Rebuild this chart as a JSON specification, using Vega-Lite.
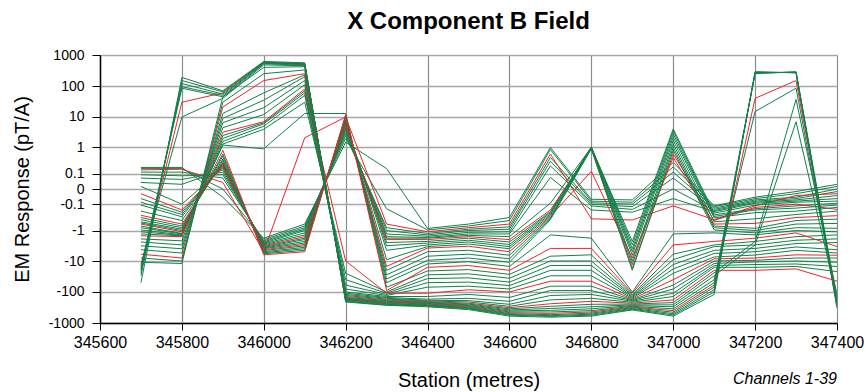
{
"$schema": "https://vega.github.io/schema/vega-lite/v6.json",
"width": 737,
"height": 268,
"autosize": "none",
"padding": {"left": 100, "top": 55, "right": 30, "bottom": 69},
"background": "white",
"title": {"text": "X Component B Field", "fontSize": 24, "font": "Liberation Sans", "fontWeight": "bold", "color": "black", "anchor": "middle", "offset": 14},
"config": {"view": {"stroke": null}},
"layer": [
{
"data": {"values": [
{"s":345700,"c":1,"v":0.19},{"s":345800,"c":1,"v":0.19},{"s":345900,"c":1,"v":-0.04},{"s":346000,"c":1,"v":-1.8},{"s":346100,"c":1,"v":-0.6},{"s":346200,"c":1,"v":1.5},{"s":346300,"c":1,"v":0.17},{"s":346400,"c":1,"v":-0.85},{"s":346500,"c":1,"v":-0.6},{"s":346600,"c":1,"v":-0.35},{"s":346700,"c":1,"v":1.0},{"s":346800,"c":1,"v":-0.055},{"s":346900,"c":1,"v":-0.06},{"s":347000,"c":1,"v":0.3},{"s":347100,"c":1,"v":-0.12},{"s":347200,"c":1,"v":-0.04},{"s":347300,"c":1,"v":-0.01},{"s":347400,"c":1,"v":0.02},
{"s":345700,"c":2,"v":0.17},{"s":345800,"c":2,"v":0.17},{"s":345900,"c":2,"v":0.0},{"s":346000,"c":2,"v":-2.0},{"s":346100,"c":2,"v":-0.7},{"s":346200,"c":2,"v":2},{"s":346300,"c":2,"v":-0.16},{"s":346400,"c":2,"v":-0.95},{"s":346500,"c":2,"v":-0.7},{"s":346600,"c":2,"v":-0.45},{"s":346700,"c":2,"v":0.85},{"s":346800,"c":2,"v":-0.07},{"s":346900,"c":2,"v":-0.08},{"s":347000,"c":2,"v":0.2},{"s":347100,"c":2,"v":-0.13},{"s":347200,"c":2,"v":-0.05},{"s":347300,"c":2,"v":-0.02},{"s":347400,"c":2,"v":0.01},
{"s":345700,"c":3,"v":0.09},{"s":345800,"c":3,"v":0.08},{"s":345900,"c":3,"v":0.09},{"s":346000,"c":3,"v":-2.4},{"s":346100,"c":3,"v":-0.9},{"s":346200,"c":3,"v":3},{"s":346300,"c":3,"v":-1.0},{"s":346400,"c":3,"v":-1.4},{"s":346500,"c":3,"v":-1.0},{"s":346600,"c":3,"v":-0.9},{"s":346700,"c":3,"v":0.33},{"s":346800,"c":3,"v":-0.1},{"s":346900,"c":3,"v":-0.13},{"s":347000,"c":3,"v":0.06},{"s":347100,"c":3,"v":-0.17},{"s":347200,"c":3,"v":-0.07},{"s":347300,"c":3,"v":-0.05},{"s":347400,"c":3,"v":-0.01},
{"s":345700,"c":4,"v":0.12},{"s":345800,"c":4,"v":0.12},{"s":345900,"c":4,"v":0.06},{"s":346000,"c":4,"v":-2.2},{"s":346100,"c":4,"v":-0.8},{"s":346200,"c":4,"v":2.5},{"s":346300,"c":4,"v":-0.8},{"s":346400,"c":4,"v":-1.25},{"s":346500,"c":4,"v":-0.9},{"s":346600,"c":4,"v":-0.75},{"s":346700,"c":4,"v":0.45},{"s":346800,"c":4,"v":-0.085},{"s":346900,"c":4,"v":-0.1},{"s":347000,"c":4,"v":0.12},{"s":347100,"c":4,"v":-0.15},{"s":347200,"c":4,"v":-0.06},{"s":347300,"c":4,"v":-0.04},{"s":347400,"c":4,"v":0.0},
{"s":345700,"c":5,"v":0.15},{"s":345800,"c":5,"v":0.16},{"s":345900,"c":5,"v":0.03},{"s":346000,"c":5,"v":-5},{"s":346100,"c":5,"v":2.1},{"s":346200,"c":5,"v":10},{"s":346300,"c":5,"v":-0.6},{"s":346400,"c":5,"v":-1.1},{"s":346500,"c":5,"v":-0.8},{"s":346600,"c":5,"v":-0.6},{"s":346700,"c":5,"v":0.6},{"s":346800,"c":5,"v":-0.39},{"s":346900,"c":5,"v":-0.43},{"s":347000,"c":5,"v":-0.12},{"s":347100,"c":5,"v":-0.42},{"s":347200,"c":5,"v":-0.12},{"s":347300,"c":5,"v":-0.03},{"s":347400,"c":5,"v":-0.02},
{"s":345700,"c":6,"v":0.06},{"s":345800,"c":6,"v":0.05},{"s":345900,"c":6,"v":0.12},{"s":346000,"c":6,"v":-2.6},{"s":346100,"c":6,"v":-1.0},{"s":346200,"c":6,"v":3.5},{"s":346300,"c":6,"v":-1.3},{"s":346400,"c":6,"v":-1.55},{"s":346500,"c":6,"v":-1.15},{"s":346600,"c":6,"v":-1.1},{"s":346700,"c":6,"v":0.22},{"s":346800,"c":6,"v":-0.12},{"s":346900,"c":6,"v":-0.17},{"s":347000,"c":6,"v":0.0},{"s":347100,"c":6,"v":-0.19},{"s":347200,"c":6,"v":-0.08},{"s":347300,"c":6,"v":-0.06},{"s":347400,"c":6,"v":-0.03},
{"s":345700,"c":7,"v":0.03},{"s":345800,"c":7,"v":0.02},{"s":345900,"c":7,"v":0.15},{"s":346000,"c":7,"v":-2.8},{"s":346100,"c":7,"v":-1.2},{"s":346200,"c":7,"v":4},{"s":346300,"c":7,"v":-1.6},{"s":346400,"c":7,"v":-1.7},{"s":346500,"c":7,"v":-1.3},{"s":346600,"c":7,"v":-1.3},{"s":346700,"c":7,"v":0.065},{"s":346800,"c":7,"v":-0.18},{"s":346900,"c":7,"v":-0.22},{"s":347000,"c":7,"v":-0.05},{"s":347100,"c":7,"v":-0.21},{"s":347200,"c":7,"v":-0.09},{"s":347300,"c":7,"v":-0.07},{"s":347400,"c":7,"v":-0.05},
{"s":345700,"c":8,"v":0.01},{"s":345800,"c":8,"v":-0.1},{"s":345900,"c":8,"v":0.18},{"s":346000,"c":8,"v":-3.0},{"s":346100,"c":8,"v":-1.4},{"s":346200,"c":8,"v":4.5},{"s":346300,"c":8,"v":-1.8},{"s":346400,"c":8,"v":-1.8},{"s":346500,"c":8,"v":-1.45},{"s":346600,"c":8,"v":-1.6},{"s":346700,"c":8,"v":-0.09},{"s":346800,"c":8,"v":1.0},{"s":346900,"c":8,"v":-2.3},{"s":347000,"c":8,"v":4.1},{"s":347100,"c":8,"v":-0.24},{"s":347200,"c":8,"v":-0.11},{"s":347300,"c":8,"v":-0.08},{"s":347400,"c":8,"v":-0.07},
{"s":345700,"c":9,"v":-0.05},{"s":345800,"c":9,"v":-0.22},{"s":345900,"c":9,"v":0.22},{"s":346000,"c":9,"v":-3.4},{"s":346100,"c":9,"v":-1.8},{"s":346200,"c":9,"v":5.5},{"s":346300,"c":9,"v":-2.5},{"s":346400,"c":9,"v":-2.3},{"s":346500,"c":9,"v":-1.8},{"s":346600,"c":9,"v":-2.4},{"s":346700,"c":9,"v":-0.21},{"s":346800,"c":9,"v":1.0},{"s":346900,"c":9,"v":-3},{"s":347000,"c":9,"v":3.5},{"s":347100,"c":9,"v":-0.28},{"s":347200,"c":9,"v":-0.16},{"s":347300,"c":9,"v":-0.12},{"s":347400,"c":9,"v":-0.09},
{"s":345700,"c":10,"v":-0.02},{"s":345800,"c":10,"v":-0.18},{"s":345900,"c":10,"v":0.2},{"s":346000,"c":10,"v":-3.2},{"s":346100,"c":10,"v":-1.6},{"s":346200,"c":10,"v":5},{"s":346300,"c":10,"v":-2},{"s":346400,"c":10,"v":-2},{"s":346500,"c":10,"v":-1.6},{"s":346600,"c":10,"v":-2},{"s":346700,"c":10,"v":-0.18},{"s":346800,"c":10,"v":0.9},{"s":346900,"c":10,"v":-17},{"s":347000,"c":10,"v":0.6},{"s":347100,"c":10,"v":-0.45},{"s":347200,"c":10,"v":-0.14},{"s":347300,"c":10,"v":-0.1},{"s":347400,"c":10,"v":-0.17},
{"s":345700,"c":11,"v":-0.08},{"s":345800,"c":11,"v":-0.27},{"s":345900,"c":11,"v":0.24},{"s":346000,"c":11,"v":-3.6},{"s":346100,"c":11,"v":-2.0},{"s":346200,"c":11,"v":6},{"s":346300,"c":11,"v":-3.2},{"s":346400,"c":11,"v":-2.6},{"s":346500,"c":11,"v":-2.1},{"s":346600,"c":11,"v":-2.9},{"s":346700,"c":11,"v":-0.23},{"s":346800,"c":11,"v":1.05},{"s":346900,"c":11,"v":-4},{"s":347000,"c":11,"v":2.8},{"s":347100,"c":11,"v":-0.32},{"s":347200,"c":11,"v":-0.18},{"s":347300,"c":11,"v":-0.15},{"s":347400,"c":11,"v":-0.11},
{"s":345700,"c":12,"v":-0.11},{"s":345800,"c":12,"v":-0.33},{"s":345900,"c":12,"v":0.26},{"s":346000,"c":12,"v":-3.8},{"s":346100,"c":12,"v":-2.3},{"s":346200,"c":12,"v":6.5},{"s":346300,"c":12,"v":-4.5},{"s":346400,"c":12,"v":-3.0},{"s":346500,"c":12,"v":-2.4},{"s":346600,"c":12,"v":-3.4},{"s":346700,"c":12,"v":-0.26},{"s":346800,"c":12,"v":1.0},{"s":346900,"c":12,"v":-5},{"s":347000,"c":12,"v":2.2},{"s":347100,"c":12,"v":-0.36},{"s":347200,"c":12,"v":-0.23},{"s":347300,"c":12,"v":-0.2},{"s":347400,"c":12,"v":-0.14},
{"s":345700,"c":13,"v":-0.2},{"s":345800,"c":13,"v":-0.45},{"s":345900,"c":13,"v":0.28},{"s":346000,"c":13,"v":-4.0},{"s":346100,"c":13,"v":-2.6},{"s":346200,"c":13,"v":7},{"s":346300,"c":13,"v":-9},{"s":346400,"c":13,"v":-3.4},{"s":346500,"c":13,"v":-2.8},{"s":346600,"c":13,"v":-4},{"s":346700,"c":13,"v":-0.29},{"s":346800,"c":13,"v":0.95},{"s":346900,"c":13,"v":-6.5},{"s":347000,"c":13,"v":1.7},{"s":347100,"c":13,"v":-0.5},{"s":347200,"c":13,"v":-0.39},{"s":347300,"c":13,"v":-0.27},{"s":347400,"c":13,"v":-0.2},
{"s":345700,"c":14,"v":-0.35},{"s":345800,"c":14,"v":-0.7},{"s":345900,"c":14,"v":0.35},{"s":346000,"c":14,"v":-4.6},{"s":346100,"c":14,"v":-3.2},{"s":346200,"c":14,"v":8},{"s":346300,"c":14,"v":-20},{"s":346400,"c":14,"v":-5},{"s":346500,"c":14,"v":-4.5},{"s":346600,"c":14,"v":-6.5},{"s":346700,"c":14,"v":-0.35},{"s":346800,"c":14,"v":1.0},{"s":346900,"c":14,"v":-10},{"s":347000,"c":14,"v":1.3},{"s":347100,"c":14,"v":-0.7},{"s":347200,"c":14,"v":-0.84},{"s":347300,"c":14,"v":-0.45},{"s":347400,"c":14,"v":-0.4},
{"s":345700,"c":15,"v":-0.29},{"s":345800,"c":15,"v":-0.6},{"s":345900,"c":15,"v":0.3},{"s":346000,"c":15,"v":-4.3},{"s":346100,"c":15,"v":-2.9},{"s":346200,"c":15,"v":7.5},{"s":346300,"c":15,"v":-15},{"s":346400,"c":15,"v":-3.8},{"s":346500,"c":15,"v":-3.3},{"s":346600,"c":15,"v":-5},{"s":346700,"c":15,"v":-0.32},{"s":346800,"c":15,"v":0.13},{"s":346900,"c":15,"v":-8},{"s":347000,"c":15,"v":0.45},{"s":347100,"c":15,"v":-0.6},{"s":347200,"c":15,"v":-0.57},{"s":347300,"c":15,"v":-0.35},{"s":347400,"c":15,"v":-0.3},
{"s":345700,"c":16,"v":-0.42},{"s":345800,"c":16,"v":-0.8},{"s":345900,"c":16,"v":0.4},{"s":346000,"c":16,"v":-5.0},{"s":346100,"c":16,"v":-3.6},{"s":346200,"c":16,"v":9},{"s":346300,"c":16,"v":-28},{"s":346400,"c":16,"v":-7},{"s":346500,"c":16,"v":-6},{"s":346600,"c":16,"v":-8.5},{"s":346700,"c":16,"v":-0.38},{"s":346800,"c":16,"v":0.95},{"s":346900,"c":16,"v":-13},{"s":347000,"c":16,"v":1.0},{"s":347100,"c":16,"v":-0.8},{"s":347200,"c":16,"v":-1.0},{"s":347300,"c":16,"v":-0.6},{"s":347400,"c":16,"v":-0.57},
{"s":345700,"c":17,"v":-0.5},{"s":345800,"c":17,"v":-0.9},{"s":345900,"c":17,"v":0.5},{"s":346000,"c":17,"v":-5.4},{"s":346100,"c":17,"v":-4.0},{"s":346200,"c":17,"v":10},{"s":346300,"c":17,"v":-38},{"s":346400,"c":17,"v":-9.5},{"s":346500,"c":17,"v":-8},{"s":346600,"c":17,"v":-11},{"s":346700,"c":17,"v":-0.42},{"s":346800,"c":17,"v":0.9},{"s":346900,"c":17,"v":-20},{"s":347000,"c":17,"v":0.8},{"s":347100,"c":17,"v":-0.95},{"s":347200,"c":17,"v":-1.2},{"s":347300,"c":17,"v":-0.8},{"s":347400,"c":17,"v":-0.84},
{"s":345700,"c":18,"v":-0.55},{"s":345800,"c":18,"v":-1.0},{"s":345900,"c":18,"v":0.6},{"s":346000,"c":18,"v":-5.8},{"s":346100,"c":18,"v":-4.5},{"s":346200,"c":18,"v":11},{"s":346300,"c":18,"v":-50},{"s":346400,"c":18,"v":-12.5},{"s":346500,"c":18,"v":-10.5},{"s":346600,"c":18,"v":-15},{"s":346700,"c":18,"v":-1.4},{"s":346800,"c":18,"v":-1.8},{"s":346900,"c":18,"v":-100},{"s":347000,"c":18,"v":-1.3},{"s":347100,"c":18,"v":-1.2},{"s":347200,"c":18,"v":-1.4},{"s":347300,"c":18,"v":-1.0},{"s":347400,"c":18,"v":-1.1},
{"s":345700,"c":19,"v":-0.7},{"s":345800,"c":19,"v":-1.25},{"s":345900,"c":19,"v":1.2},{"s":346000,"c":19,"v":0.9},{"s":346100,"c":19,"v":13},{"s":346200,"c":19,"v":13},{"s":346300,"c":19,"v":-70},{"s":346400,"c":19,"v":-21},{"s":346500,"c":19,"v":-19},{"s":346600,"c":19,"v":-27},{"s":346700,"c":19,"v":-7},{"s":346800,"c":19,"v":-6.3},{"s":346900,"c":19,"v":-120},{"s":347000,"c":19,"v":-6},{"s":347100,"c":19,"v":-3},{"s":347200,"c":19,"v":-2.3},{"s":347300,"c":19,"v":-1.6},{"s":347400,"c":19,"v":-1.4},
{"s":345700,"c":20,"v":-0.6},{"s":345800,"c":20,"v":-1.1},{"s":345900,"c":20,"v":0.8},{"s":346000,"c":20,"v":-6.3},{"s":346100,"c":20,"v":-5},{"s":346200,"c":20,"v":12},{"s":346300,"c":20,"v":-90},{"s":346400,"c":20,"v":-16},{"s":346500,"c":20,"v":-14},{"s":346600,"c":20,"v":-20},{"s":346700,"c":20,"v":-3.9},{"s":346800,"c":20,"v":-3.9},{"s":346900,"c":20,"v":-110},{"s":347000,"c":20,"v":-3},{"s":347100,"c":20,"v":-2.3},{"s":347200,"c":20,"v":-1.8},{"s":347300,"c":20,"v":-1.2},{"s":347400,"c":20,"v":-3.4},
{"s":345700,"c":21,"v":-0.8},{"s":345800,"c":21,"v":-1.3},{"s":345900,"c":21,"v":1.3},{"s":346000,"c":21,"v":4},{"s":346100,"c":21,"v":30},{"s":346200,"c":21,"v":-25},{"s":346300,"c":21,"v":-100},{"s":346400,"c":21,"v":-28},{"s":346500,"c":21,"v":-26},{"s":346600,"c":21,"v":-36},{"s":346700,"c":21,"v":-10},{"s":346800,"c":21,"v":-10},{"s":346900,"c":21,"v":-130},{"s":347000,"c":21,"v":-9},{"s":347100,"c":21,"v":-3.4},{"s":347200,"c":21,"v":-3},{"s":347300,"c":21,"v":-2.1},{"s":347400,"c":21,"v":-1.9},
{"s":345700,"c":22,"v":-0.95},{"s":345800,"c":22,"v":-1.4},{"s":345900,"c":22,"v":1.6},{"s":346000,"c":22,"v":5},{"s":346100,"c":22,"v":50},{"s":346200,"c":22,"v":-40},{"s":346300,"c":22,"v":-110},{"s":346400,"c":22,"v":-37},{"s":346500,"c":22,"v":-35},{"s":346600,"c":22,"v":-48},{"s":346700,"c":22,"v":-14},{"s":346800,"c":22,"v":-14},{"s":346900,"c":22,"v":-140},{"s":347000,"c":22,"v":-13},{"s":347100,"c":22,"v":-4.5},{"s":347200,"c":22,"v":-3.9},{"s":347300,"c":22,"v":-2.7},{"s":347400,"c":22,"v":-2.5},
{"s":345700,"c":23,"v":-1.1},{"s":345800,"c":23,"v":-1.45},{"s":345900,"c":23,"v":2},{"s":346000,"c":23,"v":6},{"s":346100,"c":23,"v":60},{"s":346200,"c":23,"v":-60},{"s":346300,"c":23,"v":-120},{"s":346400,"c":23,"v":-50},{"s":346500,"c":23,"v":-48},{"s":346600,"c":23,"v":-62},{"s":346700,"c":23,"v":-20},{"s":346800,"c":23,"v":-20},{"s":346900,"c":23,"v":-150},{"s":347000,"c":23,"v":-18},{"s":347100,"c":23,"v":-5.7},{"s":347200,"c":23,"v":-5},{"s":347300,"c":23,"v":-3.5},{"s":347400,"c":23,"v":-4.3},
{"s":345700,"c":24,"v":-1.3},{"s":345800,"c":24,"v":-1.5},{"s":345900,"c":24,"v":2.5},{"s":346000,"c":24,"v":6.5},{"s":346100,"c":24,"v":70},{"s":346200,"c":24,"v":-80},{"s":346300,"c":24,"v":-130},{"s":346400,"c":24,"v":-70},{"s":346500,"c":24,"v":-65},{"s":346600,"c":24,"v":-80},{"s":346700,"c":24,"v":-30},{"s":346800,"c":24,"v":-30},{"s":346900,"c":24,"v":-160},{"s":347000,"c":24,"v":-25},{"s":347100,"c":24,"v":-7.4},{"s":347200,"c":24,"v":-6.4},{"s":347300,"c":24,"v":-4.5},{"s":347400,"c":24,"v":-5.5},
{"s":345700,"c":25,"v":-1.5},{"s":345800,"c":25,"v":-1.6},{"s":345900,"c":25,"v":3.2},{"s":346000,"c":25,"v":7},{"s":346100,"c":25,"v":80},{"s":346200,"c":25,"v":-10},{"s":346300,"c":25,"v":-110},{"s":346400,"c":25,"v":-110},{"s":346500,"c":25,"v":-85},{"s":346600,"c":25,"v":-100},{"s":346700,"c":25,"v":-45},{"s":346800,"c":25,"v":-45},{"s":346900,"c":25,"v":-170},{"s":347000,"c":25,"v":-40},{"s":347100,"c":25,"v":-8.5},{"s":347200,"c":25,"v":-8},{"s":347300,"c":25,"v":-6.3},{"s":347400,"c":25,"v":-6.5},
{"s":345700,"c":26,"v":-1.9},{"s":345800,"c":26,"v":-2.2},{"s":345900,"c":26,"v":4.5},{"s":346000,"c":26,"v":12},{"s":346100,"c":26,"v":110},{"s":346200,"c":26,"v":-100},{"s":346300,"c":26,"v":-140},{"s":346400,"c":26,"v":-140},{"s":346500,"c":26,"v":-120},{"s":346600,"c":26,"v":-150},{"s":346700,"c":26,"v":-65},{"s":346800,"c":26,"v":-65},{"s":346900,"c":26,"v":-180},{"s":347000,"c":26,"v":-60},{"s":347100,"c":26,"v":-10},{"s":347200,"c":26,"v":-9.5},{"s":347300,"c":26,"v":-8},{"s":347400,"c":26,"v":-8},
{"s":345700,"c":27,"v":-2.4},{"s":345800,"c":27,"v":-3},{"s":345900,"c":27,"v":6.5},{"s":346000,"c":27,"v":20},{"s":346100,"c":27,"v":150},{"s":346200,"c":27,"v":-110},{"s":346300,"c":27,"v":-150},{"s":346400,"c":27,"v":-170},{"s":346500,"c":27,"v":-160},{"s":346600,"c":27,"v":-200},{"s":346700,"c":27,"v":-90},{"s":346800,"c":27,"v":-90},{"s":346900,"c":27,"v":-190},{"s":347000,"c":27,"v":-80},{"s":347100,"c":27,"v":-12},{"s":347200,"c":27,"v":-10.7},{"s":347300,"c":27,"v":-10},{"s":347400,"c":27,"v":-11},
{"s":345700,"c":28,"v":-3.2},{"s":345800,"c":28,"v":-4},{"s":345900,"c":28,"v":9},{"s":346000,"c":28,"v":35},{"s":346100,"c":28,"v":200},{"s":346200,"c":28,"v":-120},{"s":346300,"c":28,"v":-160},{"s":346400,"c":28,"v":-185},{"s":346500,"c":28,"v":-190},{"s":346600,"c":28,"v":-250},{"s":346700,"c":28,"v":-130},{"s":346800,"c":28,"v":-120},{"s":346900,"c":28,"v":-200},{"s":347000,"c":28,"v":-110},{"s":347100,"c":28,"v":-14},{"s":347200,"c":28,"v":-13},{"s":347300,"c":28,"v":-12.5},{"s":347400,"c":28,"v":-15},
{"s":345700,"c":29,"v":-4.3},{"s":345800,"c":29,"v":-5.5},{"s":345900,"c":29,"v":13},{"s":346000,"c":29,"v":60},{"s":346100,"c":29,"v":230},{"s":346200,"c":29,"v":-130},{"s":346300,"c":29,"v":-170},{"s":346400,"c":29,"v":-195},{"s":346500,"c":29,"v":-210},{"s":346600,"c":29,"v":-290},{"s":346700,"c":29,"v":-180},{"s":346800,"c":29,"v":-160},{"s":346900,"c":29,"v":-215},{"s":347000,"c":29,"v":-140},{"s":347100,"c":29,"v":-16},{"s":347200,"c":29,"v":-16},{"s":347300,"c":29,"v":-15},{"s":347400,"c":29,"v":-22},
{"s":345700,"c":30,"v":-6},{"s":345800,"c":30,"v":-8},{"s":345900,"c":30,"v":21},{"s":346000,"c":30,"v":150},{"s":346100,"c":30,"v":250},{"s":346200,"c":30,"v":-140},{"s":346300,"c":30,"v":-180},{"s":346400,"c":30,"v":-205},{"s":346500,"c":30,"v":-230},{"s":346600,"c":30,"v":-320},{"s":346700,"c":30,"v":-240},{"s":346800,"c":30,"v":-200},{"s":346900,"c":30,"v":-230},{"s":347000,"c":30,"v":-180},{"s":347100,"c":30,"v":-20},{"s":347200,"c":30,"v":-20},{"s":347300,"c":30,"v":-18},{"s":347400,"c":30,"v":-45},
{"s":345700,"c":31,"v":-8},{"s":345800,"c":31,"v":-10},{"s":345900,"c":31,"v":30},{"s":346000,"c":31,"v":250},{"s":346100,"c":31,"v":330},{"s":346200,"c":31,"v":-150},{"s":346300,"c":31,"v":-190},{"s":346400,"c":31,"v":-215},{"s":346500,"c":31,"v":-245},{"s":346600,"c":31,"v":-350},{"s":346700,"c":31,"v":-290},{"s":346800,"c":31,"v":-250},{"s":346900,"c":31,"v":-245},{"s":347000,"c":31,"v":-220},{"s":347100,"c":31,"v":-24},{"s":347200,"c":31,"v":-2.3},{"s":347300,"c":31,"v":37},{"s":347400,"c":31,"v":-120},
{"s":345700,"c":32,"v":-11},{"s":345800,"c":32,"v":-12},{"s":345900,"c":32,"v":45},{"s":346000,"c":32,"v":400},{"s":346100,"c":32,"v":420},{"s":346200,"c":32,"v":-160},{"s":346300,"c":32,"v":-200},{"s":346400,"c":32,"v":-225},{"s":346500,"c":32,"v":-260},{"s":346600,"c":32,"v":-380},{"s":346700,"c":32,"v":-340},{"s":346800,"c":32,"v":-300},{"s":346900,"c":32,"v":-260},{"s":347000,"c":32,"v":-260},{"s":347100,"c":32,"v":-30},{"s":347200,"c":32,"v":-3},{"s":347300,"c":32,"v":7},{"s":347400,"c":32,"v":-160},
{"s":345700,"c":33,"v":-13},{"s":345800,"c":33,"v":10},{"s":345900,"c":33,"v":40},{"s":346000,"c":33,"v":480},{"s":346100,"c":33,"v":450},{"s":346200,"c":33,"v":-165},{"s":346300,"c":33,"v":-210},{"s":346400,"c":33,"v":-235},{"s":346500,"c":33,"v":-275},{"s":346600,"c":33,"v":-410},{"s":346700,"c":33,"v":-390},{"s":346800,"c":33,"v":-350},{"s":346900,"c":33,"v":-275},{"s":347000,"c":33,"v":-300},{"s":347100,"c":33,"v":-40},{"s":347200,"c":33,"v":15},{"s":347300,"c":33,"v":85},{"s":347400,"c":33,"v":-250},
{"s":345700,"c":34,"v":-15},{"s":345800,"c":34,"v":85},{"s":345900,"c":34,"v":45},{"s":346000,"c":34,"v":520},{"s":346100,"c":34,"v":470},{"s":346200,"c":34,"v":-170},{"s":346300,"c":34,"v":-220},{"s":346400,"c":34,"v":-245},{"s":346500,"c":34,"v":-290},{"s":346600,"c":34,"v":-440},{"s":346700,"c":34,"v":-440},{"s":346800,"c":34,"v":-400},{"s":346900,"c":34,"v":-290},{"s":347000,"c":34,"v":-350},{"s":347100,"c":34,"v":-50},{"s":347200,"c":34,"v":250},{"s":347300,"c":34,"v":290},{"s":347400,"c":34,"v":-180},
{"s":345700,"c":35,"v":-18},{"s":345800,"c":35,"v":30},{"s":345900,"c":35,"v":60},{"s":346000,"c":35,"v":600},{"s":346100,"c":35,"v":480},{"s":346200,"c":35,"v":-175},{"s":346300,"c":35,"v":-230},{"s":346400,"c":35,"v":-255},{"s":346500,"c":35,"v":-305},{"s":346600,"c":35,"v":-470},{"s":346700,"c":35,"v":-490},{"s":346800,"c":35,"v":-440},{"s":346900,"c":35,"v":-305},{"s":347000,"c":35,"v":-400},{"s":347100,"c":35,"v":-60},{"s":347200,"c":35,"v":40},{"s":347300,"c":35,"v":150},{"s":347400,"c":35,"v":-200},
{"s":345700,"c":36,"v":-20},{"s":345800,"c":36,"v":95},{"s":345900,"c":36,"v":50},{"s":346000,"c":36,"v":540},{"s":346100,"c":36,"v":500},{"s":346200,"c":36,"v":-180},{"s":346300,"c":36,"v":-240},{"s":346400,"c":36,"v":-265},{"s":346500,"c":36,"v":-320},{"s":346600,"c":36,"v":-500},{"s":346700,"c":36,"v":-540},{"s":346800,"c":36,"v":-480},{"s":346900,"c":36,"v":-320},{"s":347000,"c":36,"v":-450},{"s":347100,"c":36,"v":-70},{"s":347200,"c":36,"v":260},{"s":347300,"c":36,"v":280},{"s":347400,"c":36,"v":-230},
{"s":345700,"c":37,"v":-24},{"s":345800,"c":37,"v":120},{"s":345900,"c":37,"v":55},{"s":346000,"c":37,"v":560},{"s":346100,"c":37,"v":520},{"s":346200,"c":37,"v":-190},{"s":346300,"c":37,"v":-250},{"s":346400,"c":37,"v":-275},{"s":346500,"c":37,"v":-335},{"s":346600,"c":37,"v":-530},{"s":346700,"c":37,"v":-580},{"s":346800,"c":37,"v":-520},{"s":346900,"c":37,"v":-340},{"s":347000,"c":37,"v":-500},{"s":347100,"c":37,"v":-85},{"s":347200,"c":37,"v":270},{"s":347300,"c":37,"v":275},{"s":347400,"c":37,"v":-270},
{"s":345700,"c":38,"v":-30},{"s":345800,"c":38,"v":150},{"s":345900,"c":38,"v":65},{"s":346000,"c":38,"v":580},{"s":346100,"c":38,"v":540},{"s":346200,"c":38,"v":-200},{"s":346300,"c":38,"v":-260},{"s":346400,"c":38,"v":-285},{"s":346500,"c":38,"v":-350},{"s":346600,"c":38,"v":-560},{"s":346700,"c":38,"v":-610},{"s":346800,"c":38,"v":-560},{"s":346900,"c":38,"v":-360},{"s":347000,"c":38,"v":-550},{"s":347100,"c":38,"v":-100},{"s":347200,"c":38,"v":280},{"s":347300,"c":38,"v":270},{"s":347400,"c":38,"v":-300},
{"s":345700,"c":39,"v":-50},{"s":345800,"c":39,"v":190},{"s":345900,"c":39,"v":70},{"s":346000,"c":39,"v":620},{"s":346100,"c":39,"v":560},{"s":346200,"c":39,"v":-210},{"s":346300,"c":39,"v":-270},{"s":346400,"c":39,"v":-300},{"s":346500,"c":39,"v":-370},{"s":346600,"c":39,"v":-600},{"s":346700,"c":39,"v":-650},{"s":346800,"c":39,"v":-600},{"s":346900,"c":39,"v":-380},{"s":347000,"c":39,"v":-600},{"s":347100,"c":39,"v":-120},{"s":347200,"c":39,"v":290},{"s":347300,"c":39,"v":265},{"s":347400,"c":39,"v":-330}
]},
"mark": {"type": "line", "strokeWidth": 1, "clip": true},
"encoding": {
"x": {"field": "s", "type": "quantitative",
"scale": {"domain": [345600, 347400], "nice": false, "zero": false},
"axis": {"values": [345600, 345800, 346000, 346200, 346400, 346600, 346800, 347000, 347200, 347400], "tickCount": 12, "format": "d", "title": "Station (metres)", "labelFlush": false, "labelOverlap": false, "labelFont": "Liberation Sans", "labelFontSize": 16, "labelColor": "black", "labelPadding": 4, "tickSize": 7, "tickColor": "black", "domainColor": "black", "domainWidth": 1.5, "gridColor": "#8c8c8c", "gridWidth": 1.2, "titleFont": "Liberation Sans", "titleFontSize": 20, "titleFontWeight": "normal", "titleColor": "black", "titlePadding": 20}},
"y": {"field": "v", "type": "quantitative",
"scale": {"type": "symlog", "constant": 0.048, "domain": [-1000, 1000], "nice": false, "zero": false},
"axis": {"values": [1000, 100, 10, 1, 0.1, 0, -0.1, -1, -10, -100, -1000], "tickCount": 14, "labelExpr": "'' + datum.value", "labelOverlap": false, "labelFlush": false, "title": "EM Response (pT/A)", "labelFont": "Liberation Sans", "labelFontSize": 14, "labelColor": "black", "labelPadding": 8, "tickSize": 8, "tickColor": "black", "domainColor": "black", "domainWidth": 1.5, "gridColor": "#a6a6a6", "gridWidth": 1.5, "titleFont": "Liberation Sans", "titleFontSize": 20, "titleFontWeight": "normal", "titleColor": "black", "titlePadding": 16}},
"detail": {"field": "c", "type": "nominal"},
"color": {"condition": {"test": "datum.c % 5 === 0", "value": "#f0232b"}, "value": "#13804a"}
}
},
{
"data": {"values": [{"note": "Channels 1-39"}]},
"mark": {"type": "text", "align": "right", "baseline": "middle", "fontStyle": "italic", "fontSize": 16, "font": "Liberation Sans", "color": "black", "dy": 56},
"encoding": {
"x": {"datum": 347400, "type": "quantitative"},
"y": {"datum": -1000, "type": "quantitative"},
"text": {"field": "note"}
}
}
]
}
